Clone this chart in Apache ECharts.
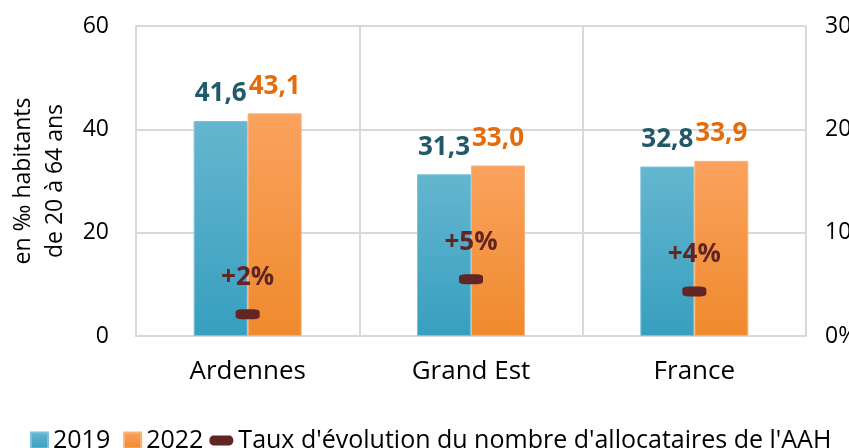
<!DOCTYPE html>
<html><head><meta charset="utf-8">
<script src="https://cdn.jsdelivr.net/npm/echarts@6/dist/echarts.min.js"></script>
<style>html,body{margin:0;padding:0;background:#fff}#c{width:849px;height:448px}</style>
</head><body><div id="c"></div>
<script>
const categories = ['Ardennes', 'Grand Est', 'France'];
const values2019 = [41.6, 31.3, 32.8];
const values2022 = [43.1, 33.0, 33.9];
const evolution = [2.1, 5.5, 4.3];
const evolutionLabels = ['+2%', '+5%', '+4%'];
const leftTicks = [0, 20, 40, 60];
const rightTicks = [0, 10, 20, 30];

const chart = echarts.init(document.getElementById('c'));
const font = '"Open Sans", sans-serif';
const fmt = v => v.toFixed(1).replace('.', ',');
const evoName = "Taux d'évolution du nombre d'allocataires de l'AAH";
chart.setOption({
  animation: false,
  textStyle: { fontFamily: font },
  grid: { left: 136, right: 43, top: 26, bottom: 112, containLabel: false, outerBoundsMode: 'none' },
  legend: {
    left: 18, top: 423, itemWidth: 24, itemHeight: 16, itemGap: 6,
    textStyle: { fontSize: 25, color: '#000', fontFamily: font },
    data: [
      { name: '2019', icon: 'path://M0,0M24,16M7,0h17v16h-17z' },
      { name: '2022', icon: 'path://M0,0M24,16M7,0h17v16h-17z' },
      { name: evoName, icon: 'path://M0,0M24,16M4,3h16a4,5 0 0 1 0,10h-16a4,5 0 0 1 0,-10z', itemStyle: { color: '#632523' } }
    ]
  },
  xAxis: {
    type: 'category', data: categories,
    axisLine: { show: true, lineStyle: { color: '#D9D9D9', width: 2 } },
    axisTick: { show: false },
    axisLabel: { fontSize: 26, color: '#000', margin: 23, fontFamily: font },
    splitLine: { show: true, lineStyle: { color: '#D9D9D9', width: 2 } }
  },
  yAxis: [
    {
      type: 'value', min: leftTicks[0], max: leftTicks[leftTicks.length - 1], interval: 20,
      name: 'en ‰ habitants\nde 20 à 64 ans', nameLocation: 'middle', nameGap: 58, nameRotate: 90,
      nameTextStyle: { fontSize: 23, color: '#000', lineHeight: 32, fontFamily: font },
      axisLine: { show: true, lineStyle: { color: '#D9D9D9', width: 2 } },
      axisTick: { show: false },
      axisLabel: { fontSize: 23, color: '#000', margin: 27, fontFamily: font },
      splitLine: { lineStyle: { color: '#D9D9D9', width: 2 } }
    },
    {
      type: 'value', min: rightTicks[0], max: rightTicks[rightTicks.length - 1], interval: 10,
      axisLine: { show: false }, axisTick: { show: false },
      axisLabel: { fontSize: 23, color: '#000', margin: 19, formatter: '{value}%', fontFamily: font },
      splitLine: { show: false }
    }
  ],
  series: [
    {
      name: '2019', type: 'bar', data: values2019, barWidth: 54, barGap: '0%',
      itemStyle: {
        color: new echarts.graphic.LinearGradient(0, 0, 0, 1, [
          { offset: 0, color: '#65B6CF' }, { offset: 1, color: '#379FBF' }
        ]),
        borderColor: '#7CC2D8', borderWidth: 1
      },
      label: { show: true, position: 'top', distance: 14, formatter: p => fmt(p.value),
        fontSize: 26, fontWeight: 'bold', color: '#215968', fontFamily: font }
    },
    {
      name: '2022', type: 'bar', data: values2022, barWidth: 54,
      itemStyle: {
        color: new echarts.graphic.LinearGradient(0, 0, 0, 1, [
          { offset: 0, color: '#FAA25E' }, { offset: 1, color: '#EF8A2D' }
        ]),
        borderColor: '#FAB27A', borderWidth: 1
      },
      label: { show: true, position: 'top', distance: 14, formatter: p => fmt(p.value),
        fontSize: 26, fontWeight: 'bold', color: '#E46C0A', fontFamily: font }
    },
    {
      name: evoName, type: 'line', yAxisIndex: 1,
      data: evolution,
      lineStyle: { width: 0, opacity: 0 },
      symbol: 'roundRect', symbolSize: [24, 10],
      itemStyle: { color: '#632523' },
      label: { show: true, position: 'top', distance: 19,
        formatter: p => evolutionLabels[p.dataIndex],
        fontSize: 26, fontWeight: 'bold', color: '#632523', fontFamily: font },
      z: 5
    }
  ]
});
</script></body></html>
